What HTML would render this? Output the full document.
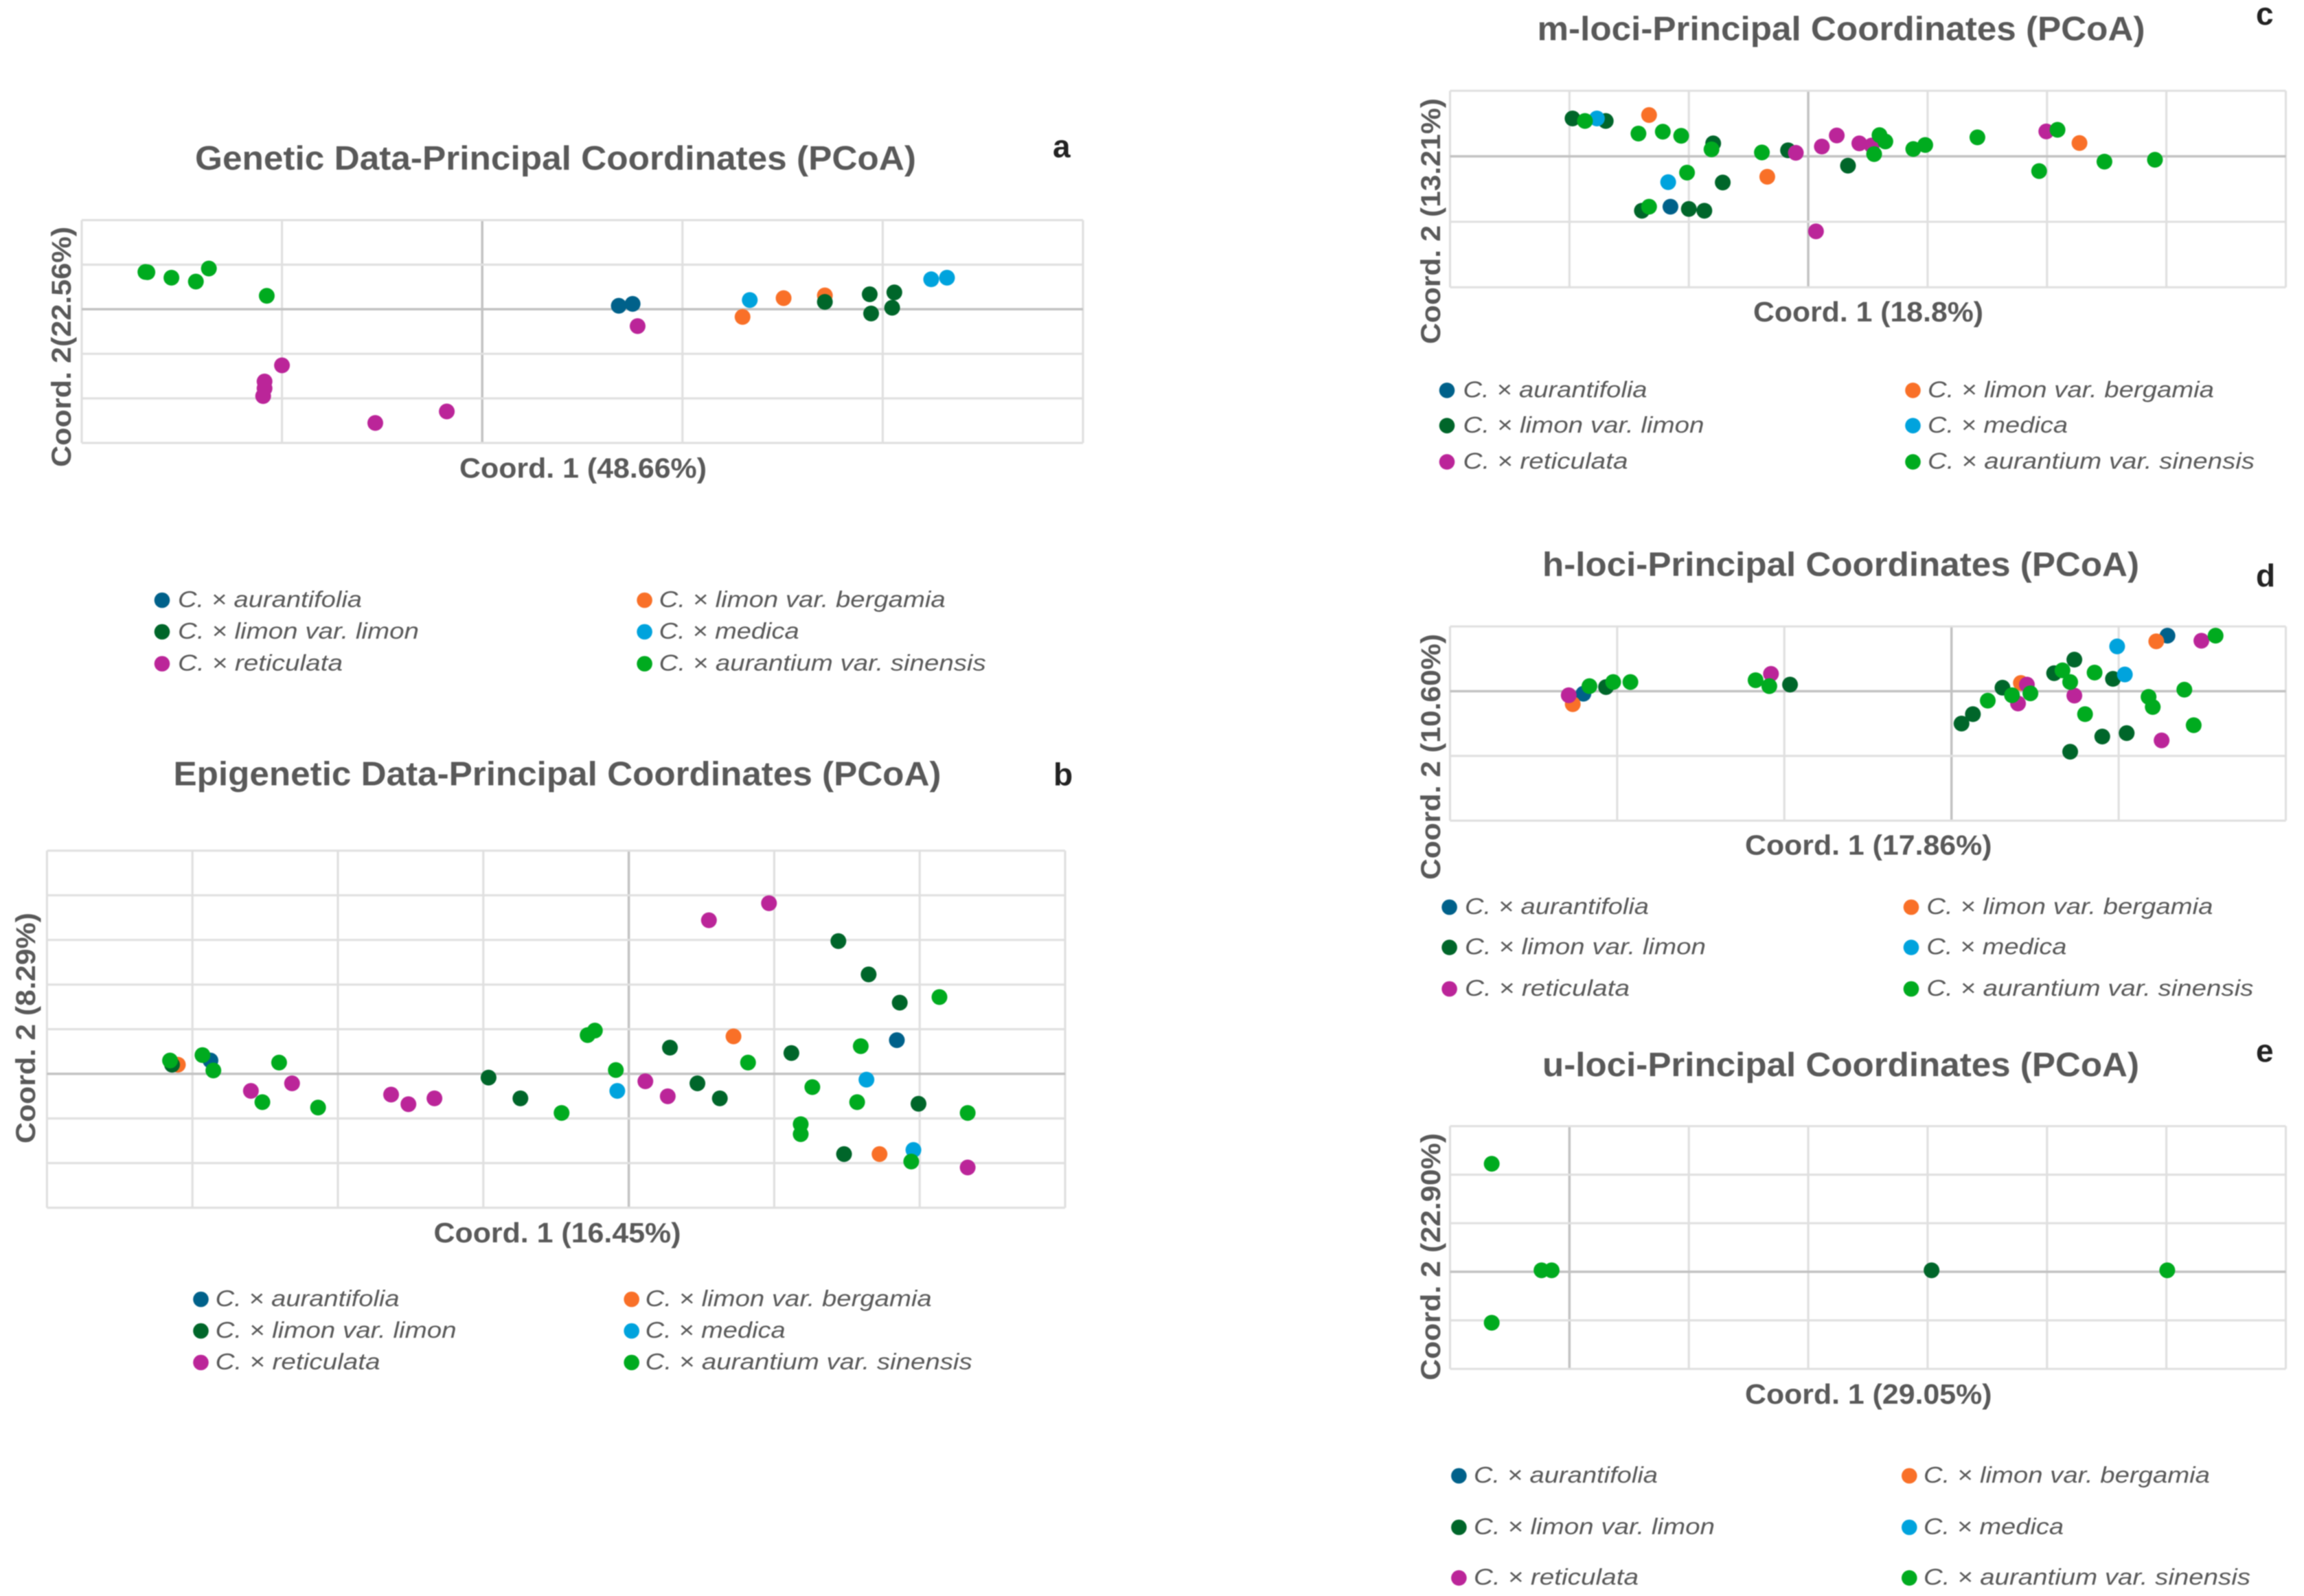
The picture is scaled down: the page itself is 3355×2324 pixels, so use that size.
<!DOCTYPE html>
<html lang="en">
<head>
<meta charset="utf-8">
<title>Principal Coordinates Analysis panels</title>
<style>
html,body{margin:0;padding:0;background:#fff;}
svg{display:block;filter:blur(0.7px);}
text{font-family:"Liberation Sans",sans-serif;fill:#595959;}
.title{font-weight:700;font-size:49px;}
.xlab{font-weight:700;font-size:41px;}
.ylab{font-weight:700;font-size:40px;}
.tag{font-weight:700;font-size:46px;fill:#222;}
.leg{font-style:italic;font-size:33px;}
</style>
</head>
<body>
<svg id="figure" xmlns="http://www.w3.org/2000/svg" width="3355" height="2324" viewBox="0 0 3355 2324">
  <rect width="3355" height="2324" fill="#fff"/>
  <g id="panels"></g>

  <text class="title" x="284" y="247" textLength="1050" lengthAdjust="spacingAndGlyphs">Genetic Data-Principal Coordinates (PCoA)</text>
  <text class="tag" x="1533" y="229">a</text>
  <text class="xlab" x="669" y="695.5" textLength="360" lengthAdjust="spacingAndGlyphs">Coord. 1 (48.66%)</text>
  <text class="ylab" transform="translate(103,680) rotate(-90)" textLength="350" lengthAdjust="spacingAndGlyphs">Coord. 2(22.56%)</text>

  <text class="title" x="252.5" y="1143.5" textLength="1118" lengthAdjust="spacingAndGlyphs">Epigenetic Data-Principal Coordinates (PCoA)</text>
  <text class="tag" x="1534" y="1143.5">b</text>
  <text class="xlab" x="631.5" y="1809" textLength="360" lengthAdjust="spacingAndGlyphs">Coord. 1 (16.45%)</text>
  <text class="ylab" transform="translate(51,1665) rotate(-90)" textLength="336" lengthAdjust="spacingAndGlyphs">Coord. 2 (8.29%)</text>

  <text class="title" x="2238.5" y="58.5" textLength="885" lengthAdjust="spacingAndGlyphs">m-loci-Principal Coordinates (PCoA)</text>
  <text class="tag" x="3285" y="36">c</text>
  <text class="xlab" x="2553" y="468" textLength="335" lengthAdjust="spacingAndGlyphs">Coord. 1 (18.8%)</text>
  <text class="ylab" transform="translate(2097,501) rotate(-90)" textLength="358" lengthAdjust="spacingAndGlyphs">Coord. 2 (13.21%)</text>

  <text class="title" x="2246" y="838.5" textLength="869" lengthAdjust="spacingAndGlyphs">h-loci-Principal Coordinates (PCoA)</text>
  <text class="tag" x="3285" y="854">d</text>
  <text class="xlab" x="2541" y="1244.5" textLength="359.5" lengthAdjust="spacingAndGlyphs">Coord. 1 (17.86%)</text>
  <text class="ylab" transform="translate(2097,1281) rotate(-90)" textLength="358" lengthAdjust="spacingAndGlyphs">Coord. 2 (10.60%)</text>

  <text class="title" x="2246" y="1567" textLength="869" lengthAdjust="spacingAndGlyphs">u-loci-Principal Coordinates (PCoA)</text>
  <text class="tag" x="3285" y="1546">e</text>
  <text class="xlab" x="2541" y="2044" textLength="359.5" lengthAdjust="spacingAndGlyphs">Coord. 1 (29.05%)</text>
  <text class="ylab" transform="translate(2097,2010) rotate(-90)" textLength="360" lengthAdjust="spacingAndGlyphs">Coord. 2 (22.90%)</text>
</svg>

<script>
// Categories
const speciesNames = ["C. × aurantifolia", "C. × limon var. bergamia", "C. × limon var. limon", "C. × medica", "C. × reticulata", "C. × aurantium var. sinensis"];
const speciesKeys = ["aurantifolia", "bergamia", "limon", "medica", "reticulata", "sinensis"];
const speciesColors = ["#00618a", "#f97028", "#00662a", "#00a3dd", "#bb2599", "#00ab1f"];

// Panel a: genetic data
const aTicksX = [-2, -1, 0, 1, 2, 3];
const aTicksY = [-3, -2, -1, 0, 1, 2];
const aAurantifoliaX = [0.682, 0.751];
const aAurantifoliaY = [0.078, 0.121];
const aBergamiaX = [1.30, 1.505, 1.711];
const aBergamiaY = [-0.172, 0.25, 0.31];
const aLimonX = [1.711, 1.935, 2.058, 1.942, 2.047];
const aLimonY = [0.164, 0.336, 0.379, -0.095, 0.034];
const aMedicaX = [1.336, 2.242, 2.321];
const aMedicaY = [0.207, 0.672, 0.707];
const aReticulataX = [0.776, -1.0, -1.087, -1.087, -1.094, -0.534, -0.177];
const aReticulataY = [-0.379, -1.259, -1.621, -1.776, -1.948, -2.552, -2.293];
const aSinensisX = [-1.682, -1.672, -1.552, -1.43, -1.365, -1.076];
const aSinensisY = [0.836, 0.83, 0.707, 0.621, 0.914, 0.302];

// Panel b: epigenetic data
const bTicksX = [-4, -3, -2, -1, 0, 1, 2, 3];
const bTicksY = [-3, -2, -1, 0, 1, 2, 3, 4, 5];
const bAurantifoliaX = [-2.876, 1.843];
const bAurantifoliaY = [0.298, 0.755];
const bBergamiaX = [-3.1, 0.72, 1.724];
const bBergamiaY = [0.205, 0.839, -1.798];
const bLimonX = [-3.14, -0.964, -0.745, 0.283, 0.472, 0.626, 1.118, 1.441, 1.649, 1.863, 1.992, 1.48];
const bLimonY = [0.205, -0.084, -0.55, 0.587, -0.214, -0.55, 0.466, 2.974, 2.228, 1.594, -0.671, -1.798];
const bMedicaX = [-0.079, 1.634, 1.957];
const bMedicaY = [-0.382, -0.131, -1.706];
const bReticulataX = [-2.598, -2.315, -1.634, -1.515, -1.336, 0.114, 0.268, 0.551, 0.964, 2.33];
const bReticulataY = [-0.382, -0.214, -0.466, -0.68, -0.55, -0.168, -0.503, 3.441, 3.823, -2.098];
const bSinensisX = [-3.154, -2.931, -2.856, -2.404, -2.519, -2.136, -0.462, -0.283, -0.233, -0.089, 0.82, 1.262, 1.595, 1.57, 1.182, 1.182, 2.136, 2.33, 1.942];
const bSinensisY = [0.298, 0.42, 0.075, 0.252, -0.634, -0.755, -0.876, 0.867, 0.97, 0.084, 0.252, -0.298, 0.62, -0.634, -1.128, -1.352, 1.72, -0.876, -1.966];

// Panel c: m-loci
const cTicksX = [-3, -2, -1, 0, 1, 2, 3, 4];
const cTicksY = [-2, -1, 0, 1];
const cAurantifoliaX = [-1.154];
const cAurantifoliaY = [-0.77];
const cBergamiaX = [-1.333, -0.343, 2.272];
const cBergamiaY = [0.63, -0.313, 0.202];
const cLimonX = [-1.974, -1.696, -0.796, -0.169, 0.333, -0.716, -1.393, -1.0, -0.87];
const cLimonY = [0.578, 0.539, 0.197, 0.091, -0.144, -0.40, -0.831, -0.804, -0.831];
const cMedicaX = [-1.77, -1.173];
const cMedicaY = [0.578, -0.395];
const cReticulataX = [-0.104, 0.114, 0.239, 0.428, 0.532, 1.994, 0.065];
const cReticulataY = [0.053, 0.149, 0.318, 0.197, 0.164, 0.38, -1.146];
const cSinensisX = [-1.87, -1.422, -1.218, -1.064, -0.81, -0.388, -1.015, -1.333, 0.552, 0.597, 0.646, 0.88, 0.98, 1.417, 2.088, 1.934, 2.481, 2.904];
const cSinensisY = [0.539, 0.347, 0.376, 0.313, 0.106, 0.058, -0.25, -0.77, 0.034, 0.323, 0.226, 0.111, 0.173, 0.289, 0.404, -0.226, -0.082, -0.053];

// Panel d: h-loci
const dTicksX = [-3, -2, -1, 0, 1, 2];
const dTicksY = [-2, -1, 0, 1];
const dAurantifoliaX = [-2.202, 1.292];
const dAurantifoliaY = [-0.039, 0.857];
const dBergamiaX = [-2.266, 0.415, 1.225];
const dBergamiaY = [-0.2, 0.127, 0.77];
const dLimonX = [-2.067, -0.966, 0.06, 0.128, 0.305, 0.614, 0.735, 0.966, 0.902, 1.048, 0.71];
const dLimonY = [0.063, 0.102, -0.5, -0.355, 0.054, 0.278, 0.487, 0.19, -0.701, -0.648, -0.935];
const dMedicaX = [0.991, 1.037];
const dMedicaY = [0.692, 0.258];
const dReticulataX = [-2.29, -1.08, 0.451, 0.398, 0.735, 1.257, 1.495];
const dReticulataY = [-0.063, 0.268, 0.102, -0.19, -0.068, -0.76, 0.779];
const dSinensisX = [-2.166, -2.024, -1.921, -1.172, -1.09, 0.217, 0.362, 0.472, 0.664, 0.71, 0.856, 0.799, 1.179, 1.204, 1.393, 1.449, 1.58];
const dSinensisY = [0.078, 0.141, 0.141, 0.17, 0.078, -0.146, -0.063, -0.034, 0.322, 0.141, 0.287, -0.355, -0.088, -0.244, 0.024, -0.526, 0.857];

// Panel e: u-loci
const eTicksX = [-1, 0, 1, 2, 3, 4, 5, 6];
const eTicksY = [-2, -1, 0, 1, 2, 3];
const eAurantifoliaX = [];
const eAurantifoliaY = [];
const eBergamiaX = [];
const eBergamiaY = [];
const eLimonX = [3.033];
const eLimonY = [0.03];
const eMedicaX = [];
const eMedicaY = [];
const eReticulataX = [];
const eReticulataY = [];
const eSinensisX = [-0.651, -0.651, -0.234, -0.149, 5.007];
const eSinensisY = [2.225, -1.049, 0.03, 0.03, 0.03];

const SVG_NS = "http://www.w3.org/2000/svg";
const panelsRoot = document.getElementById("panels");

function linearScale(domainMin, domainMax, rangeStart, rangeEnd) {
  return function (v) {
    return rangeStart + (v - domainMin) / (domainMax - domainMin) * (rangeEnd - rangeStart);
  };
}

function drawPanel(id, box, ticksX, ticksY, seriesX, seriesY, legend) {
  const group = document.createElementNS(SVG_NS, "g");
  
  
  panelsRoot.appendChild(group);

  const xAxis = linearScale(ticksX[0], ticksX[ticksX.length - 1], box.left, box.right);
  const yAxis = linearScale(ticksY[0], ticksY[ticksY.length - 1], box.bottom, box.top);

  ticksX.forEach(function (t) {
    const line = document.createElementNS(SVG_NS, "line");
    
    
    line.setAttribute("x1", xAxis(t));
    line.setAttribute("x2", xAxis(t));
    line.setAttribute("y1", box.top);
    line.setAttribute("y2", box.bottom);
    line.setAttribute("stroke", t === 0 ? "#c2c2c2" : "#e0e0e0");
    line.setAttribute("stroke-width", t === 0 ? 3.5 : 3.2);
    group.appendChild(line);
  });
  ticksY.forEach(function (t) {
    const line = document.createElementNS(SVG_NS, "line");
    
    
    line.setAttribute("x1", box.left);
    line.setAttribute("x2", box.right);
    line.setAttribute("y1", yAxis(t));
    line.setAttribute("y2", yAxis(t));
    line.setAttribute("stroke", t === 0 ? "#c2c2c2" : "#e0e0e0");
    line.setAttribute("stroke-width", t === 0 ? 3.5 : 3.2);
    group.appendChild(line);
  });

  speciesKeys.forEach(function (key, s) {
    seriesX[s].forEach(function (xv, i) {
      const dot = document.createElementNS(SVG_NS, "circle");
      
      
      dot.setAttribute("cx", xAxis(xv));
      dot.setAttribute("cy", yAxis(seriesY[s][i]));
      dot.setAttribute("r", 11.5);
      dot.setAttribute("fill", speciesColors[s]);
      group.appendChild(dot);
    });
  });

  const textWidths = [268, 417, 351, 204, 240, 476];
  speciesNames.forEach(function (name, s) {
    const col = s % 2;
    const row = Math.floor(s / 2);
    const marker = document.createElementNS(SVG_NS, "circle");
    
    
    marker.setAttribute("cx", legend.markerX[col]);
    marker.setAttribute("cy", legend.rowY[row]);
    marker.setAttribute("r", 11.3);
    marker.setAttribute("fill", speciesColors[s]);
    group.appendChild(marker);

    const label = document.createElementNS(SVG_NS, "text");
    
    
    label.setAttribute("class", "leg");
    label.setAttribute("x", legend.textX[col]);
    label.setAttribute("y", legend.rowY[row] + 10);
    label.setAttribute("textLength", textWidths[s]);
    label.setAttribute("lengthAdjust", "spacingAndGlyphs");
    label.textContent = name;
    group.appendChild(label);
  });
}

drawPanel("a", { left: 119, right: 1577, top: 320.5, bottom: 645 }, aTicksX, aTicksY,
  [aAurantifoliaX, aBergamiaX, aLimonX, aMedicaX, aReticulataX, aSinensisX],
  [aAurantifoliaY, aBergamiaY, aLimonY, aMedicaY, aReticulataY, aSinensisY],
  { markerX: [236, 938.6], textX: [259, 959.7], rowY: [874, 920, 966.5] });

drawPanel("b", { left: 68.4, right: 1551, top: 1238.7, bottom: 1758.6 }, bTicksX, bTicksY,
  [bAurantifoliaX, bBergamiaX, bLimonX, bMedicaX, bReticulataX, bSinensisX],
  [bAurantifoliaY, bBergamiaY, bLimonY, bMedicaY, bReticulataY, bSinensisY],
  { markerX: [292.5, 919.7], textX: [313.6, 939.7], rowY: [1892, 1938, 1984] });

drawPanel("c", { left: 2111.5, right: 3328.5, top: 132.2, bottom: 418.3 }, cTicksX, cTicksY,
  [cAurantifoliaX, cBergamiaX, cLimonX, cMedicaX, cReticulataX, cSinensisX],
  [cAurantifoliaY, cBergamiaY, cLimonY, cMedicaY, cReticulataY, cSinensisY],
  { markerX: [2107, 2785.5], textX: [2130.5, 2807], rowY: [568.4, 619.8, 672.6] });

drawPanel("d", { left: 2111.5, right: 3328.5, top: 912.2, bottom: 1195 }, dTicksX, dTicksY,
  [dAurantifoliaX, dBergamiaX, dLimonX, dMedicaX, dReticulataX, dSinensisX],
  [dAurantifoliaY, dBergamiaY, dLimonY, dMedicaY, dReticulataY, dSinensisY],
  { markerX: [2110.6, 2783], textX: [2133, 2805.4], rowY: [1321, 1379.6, 1440] });

drawPanel("e", { left: 2111.5, right: 3328.5, top: 1639.8, bottom: 1993.3 }, eTicksX, eTicksY,
  [eAurantifoliaX, eBergamiaX, eLimonX, eMedicaX, eReticulataX, eSinensisX],
  [eAurantifoliaY, eBergamiaY, eLimonY, eMedicaY, eReticulataY, eSinensisY],
  { markerX: [2124.4, 2780.3], textX: [2146, 2801], rowY: [2149, 2224, 2297.7] });
</script>
</body>
</html>
